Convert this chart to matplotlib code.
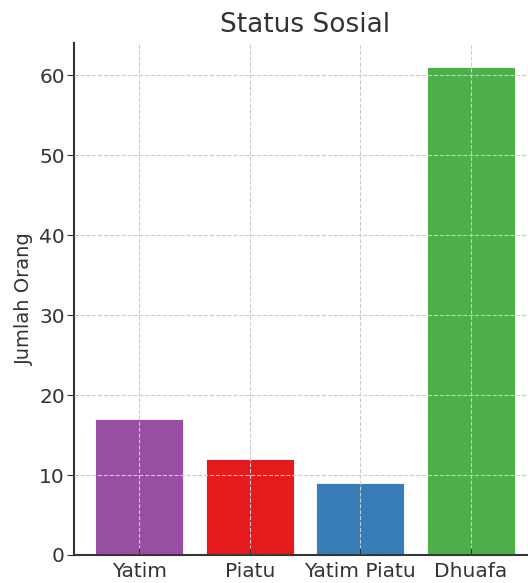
import matplotlib
matplotlib.use("Agg")
import matplotlib.pyplot as plt

categories = ["Yatim", "Piatu", "Yatim Piatu", "Dhuafa"]
values = [17, 12, 9, 61]
colors = ["#984ea3", "#e41a1c", "#377eb8", "#4daf4a"]

W, H = 528, 583
fig = plt.figure(figsize=(W / 100, H / 100), dpi=100)
ax = fig.add_axes([74 / W, (H - 555) / H, (536 - 74) / W, (555 - 43) / H])

ax.bar(categories, values, color=colors, width=0.8, zorder=2,
       edgecolor="white", linewidth=0.6)
ax.set_title("Status Sosial", fontsize=19, color="#333333", pad=8)
ax.set_ylabel("Jumlah Orang", fontsize=14, color="#333333", labelpad=4)
ax.grid(True, linestyle="--", color="#cccccc", linewidth=0.8, zorder=0)
ax.set_axisbelow(False)
for s in ["top", "right"]:
    ax.spines[s].set_visible(False)
for s in ["left", "bottom"]:
    ax.spines[s].set_color("#333333")
    ax.spines[s].set_linewidth(1.5)
ax.tick_params(axis="x", direction="in", labelsize=14.5, colors="#333333", length=5, pad=5)
ax.tick_params(axis="y", direction="out", labelsize=14.5, colors="#333333", length=5, pad=1.5)
ax.set_yticks([0, 10, 20, 30, 40, 50, 60])

fig.savefig("out.png", dpi=100)
